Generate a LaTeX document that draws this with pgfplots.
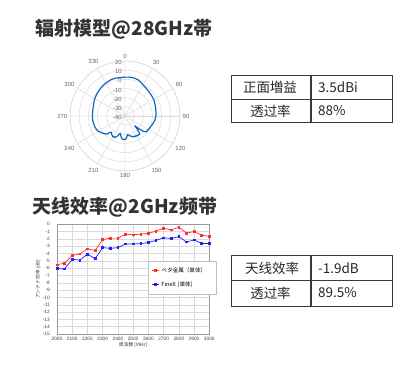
\documentclass[border=0pt]{standalone}
\usepackage{fontspec}
\usepackage{pgfplots}
\pgfplotsset{compat=1.18}
\usepgfplotslibrary{polar}
\setmainfont{Noto Sans CJK SC}
\newfontfamily\jp{Noto Sans CJK JP}
\newfontfamily\lib{Liberation Sans}
\definecolor{titlec}{HTML}{333333}
\definecolor{polblue}{HTML}{1565C0}
\definecolor{redc}{HTML}{FF3030}
\definecolor{bluec}{HTML}{2020FF}
\definecolor{tabline}{HTML}{3A3A3A}
\definecolor{gridc}{HTML}{DADADA}

\pgfplotstableread{
ang db
0 2.4
5 2.6
10 2.7
15 2.5
20 2.0
25 0.8
30 -0.8
35 -1.6
40 -2.3
45 -2.9
50 -3.3
55 -3.6
60 -3.8
65 -4.4
70 -5.0
75 -5.4
80 -5.8
85 -6.0
90 -6.1
92.5 -6.6
95 -7.0
97.5 -7.0
100 -7.6
102.5 -8.0
105 -8.4
107.5 -9.0
110 -9.2
112.5 -9.9
115 -9.6
117.5 -10.6
120 -10.2
122.5 -11.2
125 -10.8
127.5 -11.6
130 -14
132.5 -20
135 -25
137.5 -19
140 -15.5
142.5 -14.2
145 -15
147.5 -14.4
150 -15.4
152.5 -14.8
155 -15.8
157.5 -15.2
160 -16.2
162.5 -16.8
165 -17.4
167.5 -18.2
170 -19.2
172.5 -19.6
175 -17
177.5 -15.2
180 -14.2
182.5 -14.8
185 -14
187.5 -15.2
190 -16.4
192.5 -18.5
195 -20.5
197.5 -19.2
200 -17.4
202.5 -15.2
205 -14.2
207.5 -14.8
210 -13.6
212.5 -14.4
215 -15
217.5 -16
220 -17
222.5 -15.6
225 -12.2
227.5 -11.2
230 -10
232.5 -9.4
235 -8.2
237.5 -7.6
240 -6.6
242.5 -6.0
245 -5.6
250 -5.0
255 -4.8
260 -4.6
265 -4.5
270 -4.4
275 -4.4
280 -4.4
285 -4.0
290 -3.5
295 -2.8
300 -2.0
305 -1.4
310 -0.8
315 -0.2
320 0.5
325 1.1
330 1.6
335 2.1
340 2.5
345 2.5
350 2.4
355 2.3
360 2.4
}\polardata

\pgfplotstableread{
f red blue
2000 -5.55 -6.05
2050 -5.3 -6.1
2100 -4.27 -4.8
2150 -4.05 -4.9
2200 -3.36 -4.1
2250 -3.6 -4.7
2300 -2.1 -3.2
2350 -1.9 -3.3
2400 -1.9 -3.2
2450 -1.35 -2.7
2500 -1.45 -2.7
2550 -1.35 -2.65
2600 -1.25 -2.5
2650 -0.95 -2.2
2700 -0.55 -1.85
2750 -0.78 -1.95
2800 -0.42 -1.7
2850 -1.22 -2.42
2900 -1.0 -2.15
2950 -1.5 -2.62
3000 -1.65 -2.65
}\effdata

\begin{document}
\begin{tikzpicture}
\useasboundingbox (0pt,0pt) rectangle (400pt,-376pt);

% Titles
\node[font=\bfseries\fontsize{19}{19}\selectfont, text=titlec, inner sep=0pt] at (124pt,-29pt) {辐射模型@28GHz帯};
\node[font=\bfseries\fontsize{19}{19}\selectfont, text=titlec, inner sep=0pt] at (125pt,-207pt) {天线效率@2GHz频带};

% Polar pattern (radius shown = dB + 40, so the centre is -40 dB)
\begin{polaraxis}[
  at={(125pt,-116pt)}, anchor=center,
  scale only axis, width=110pt, height=110pt,
  ymin=0, ymax=60, ytick={0,10,...,60}, yticklabels={},
  xtick={0,30,...,330},
  xticklabels={90,60,30,0,330,300,270,240,210,180,150,120},
  grid=major, major grid style={gridc, line width=0.5pt},
  axis line style={gridc, line width=0.5pt},
  major tick length=0pt,
  xticklabel style={font=\lib\fontsize{6}{6}\selectfont, text=black!60, inner sep=2.5pt},
  clip=false,
]
\addplot[polblue, line width=1.2pt, line join=round, x filter/.expression={90-x}, y filter/.expression={y+40}] table[x=ang, y=db] {\polardata};
\pgfplotsinvokeforeach{20,10,0,-10,-20,-30,-40}{
  \node[anchor=east, font=\lib\fontsize{6}{6}\selectfont, text=black!60, inner sep=0pt, xshift=-3pt, yshift=-1.5pt] at (axis cs:90,#1+40) {#1};
}
\end{polaraxis}

% Efficiency chart
\begin{axis}[
  at={(57pt,-334pt)}, anchor=south west,
  scale only axis, width=152.3pt, height=109.8pt,
  xmin=2000, xmax=3000, ymin=-15, ymax=0,
  xtick={2000,2100,...,3000},
  xticklabels={2000,2100,2200,2300,2400,2500,2600,2700,2800,2900,3000},
  ytick={-15,-14,...,0},
  yticklabels={-15,-14,-13,-12,-11,-10,-9,-8,-7,-6,-5,-4,-3,-2,-1,0},
  grid=major, major grid style={gridc, line width=0.4pt},
  axis line style={black!40, line width=0.5pt},
  major tick length=0pt,
  tick label style={font=\lib\fontsize{4.8}{5}\selectfont, text=black!75},
  yticklabel style={inner sep=1pt, xshift=-6pt},
  xticklabel style={inner sep=1pt, yshift=-2pt},
  xlabel={\jp 周波数 [MHz]},
  ylabel={\jp アンテナ効率 [dB]},
  label style={font=\fontsize{4.8}{5}\selectfont, text=black!75},
  xlabel style={yshift=3pt},
  ylabel style={yshift=-2pt},
  legend style={at={(axis description cs:0.598,0.664)}, anchor=north west,
    draw=black!25, fill=white, font=\jp\fontsize{5.6}{6}\selectfont,
    inner xsep=3.5pt, inner ysep=4pt, row sep=4pt,
    text width=49pt},
  legend cell align=left,
  legend image code/.code={\draw[#1, mark repeat=2, mark phase=2] plot coordinates {(0pt,0pt) (3.5pt,0pt) (7pt,0pt)};},
]
\addplot[redc, line width=0.7pt, mark=square*, mark size=0.85pt] table[x=f, y=red] {\effdata};
\addlegendentry{ベタ金属（単体）}
\addplot[bluec, line width=0.7pt, mark=square*, mark size=0.85pt] table[x=f, y=blue] {\effdata};
\addlegendentry{FineX (単体)}
\end{axis}

% Table 1
\draw[tabline, line width=0.9pt] (231pt,-75pt) rectangle (392pt,-122pt);
\draw[tabline, line width=0.9pt] (231pt,-99pt) -- (392pt,-99pt);
\draw[tabline, line width=1.1pt] (311pt,-75pt) -- (311pt,-122pt);
\node[font=\fontsize{13.5}{14}\selectfont, text=black!85] at (270pt,-87pt) {正面増益};
\node[font=\fontsize{13.5}{14}\selectfont, text=black!85] at (270.5pt,-111pt) {透过率};
\node[font=\fontsize{13.5}{14}\selectfont, text=black!85, anchor=west, inner sep=0pt] at (318pt,-87pt) {3.5dBi};
\node[font=\fontsize{13.5}{14}\selectfont, text=black!85, anchor=west, inner sep=0pt] at (318pt,-111pt) {88\%};

% Table 2
\draw[tabline, line width=0.9pt] (231pt,-255pt) rectangle (392pt,-306pt);
\draw[tabline, line width=0.9pt] (231pt,-280pt) -- (392pt,-280pt);
\draw[tabline, line width=1.1pt] (311pt,-255pt) -- (311pt,-306pt);
\node[font=\fontsize{13.5}{14}\selectfont, text=black!85] at (272pt,-268pt) {天线效率};
\node[font=\fontsize{13.5}{14}\selectfont, text=black!85] at (270.5pt,-293pt) {透过率};
\node[font=\fontsize{13.5}{14}\selectfont, text=black!85, anchor=west, inner sep=0pt] at (318pt,-268pt) {-1.9dB};
\node[font=\fontsize{13.5}{14}\selectfont, text=black!85, anchor=west, inner sep=0pt] at (318pt,-293pt) {89.5\%};
\end{tikzpicture}
\end{document}
